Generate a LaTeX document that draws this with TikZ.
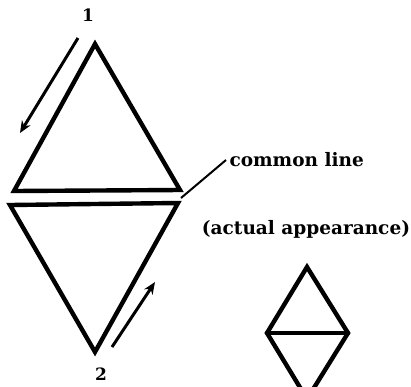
\documentclass[tikz,border=0pt]{standalone}
\usepackage{fontspec}
\setmainfont{DejaVu Serif}
\usepackage{tikz}
\usetikzlibrary{arrows.meta, calc}

\begin{document}
\begin{tikzpicture}[x=1pt, y=-1pt,
    edgestyle/.style={line width=4.4pt, line join=miter, line cap=round},
    flowstyle/.style={-{Stealth[length=12pt, width=10pt]}, line width=3pt},
    leaderstyle/.style={line width=2pt},
    labelstyle/.style={font=\bfseries\fontsize{18.5}{22}\selectfont},
    numstyle/.style={font=\bfseries\fontsize{17}{20}\selectfont}]
  \clip (0,0) rectangle (411,386);
  % upper triangle
  \coordinate (T1) at (95,44);
  \coordinate (L1) at (14,191);
  \coordinate (R1) at (180,190);
  \draw[edgestyle] (T1) -- (L1) -- (R1) -- cycle;
  % lower triangle
  \coordinate (L2) at (10,205);
  \coordinate (R2) at (178,203);
  \coordinate (B2) at (95,352);
  \draw[edgestyle] (L2) -- (R2) -- (B2) -- cycle;
  % direction arrows
  \node[numstyle] (one) at (88,15) {1};
  \node[numstyle] (two) at (101,374) {2};
  \coordinate (a1s) at (78,38);
  \coordinate (a1e) at (20,133);
  \draw[flowstyle] (a1s) -- (a1e);
  \coordinate (a2s) at (112,347);
  \coordinate (a2e) at (155,282);
  \draw[flowstyle] (a2s) -- (a2e);
  % common line label
  \node[labelstyle, anchor=west] (common) at (226,160) {common line};
  \coordinate (lead) at (181,198);
  \draw[leaderstyle] (lead) -- (common.west);
  \node[labelstyle] (actual) at (306,229) {(actual appearance)};
  % small diamond
  \coordinate (DT) at (307,267);
  \coordinate (DL) at (267,333);
  \coordinate (DR) at (348,333);
  \coordinate (DB) at (307,399);
  \draw[edgestyle] (DL) -- (DT) -- (DR) -- (DB) -- cycle;
  \draw[edgestyle] (DL) -- (DR);
\end{tikzpicture}
\end{document}
